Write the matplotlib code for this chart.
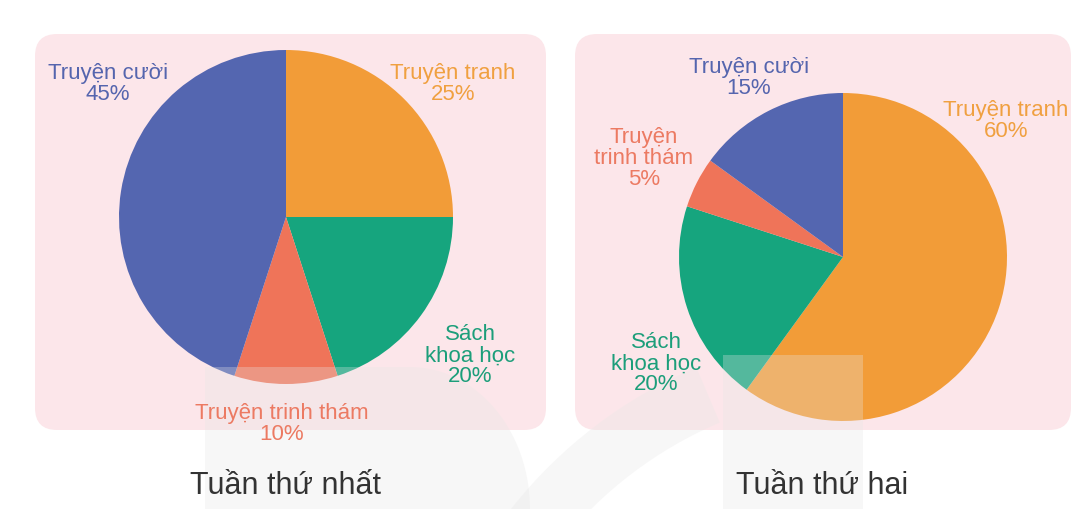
import numpy as np
import matplotlib.pyplot as plt
from matplotlib.patches import FancyBboxPatch, Rectangle, Polygon, Wedge

plt.rcParams['font.family'] = ['Liberation Sans', 'DejaVu Sans']

# data
categories = ["Truyện tranh", "Sách khoa học", "Truyện trinh thám", "Truyện cười"]
week1 = [25, 20, 10, 45]
week2 = [60, 20, 5, 15]
titles = ["Tuần thứ nhất", "Tuần thứ hai"]
colors = ["#f29c38", "#16a57e", "#ef7459", "#5466b0"]
text_colors = ["#f0a040", "#1c9e7a", "#ec7a62", "#5565ae"]

W, H = 1073, 509
fig = plt.figure(figsize=(W / 100, H / 100), dpi=100)
ax = fig.add_axes([0, 0, 1, 1])


def Y(y):
    return H - y


# pink panels
for x0, x1 in [(35, 546), (575, 1071)]:
    ax.add_patch(FancyBboxPatch((x0 + 14, Y(430) + 14), x1 - x0 - 28, 430 - 34 - 28,
                                boxstyle="round,pad=14,rounding_size=22",
                                fc="#fce6ea", ec="none", zorder=0))

# pies
pies = [
    (week1, (286, Y(217)), 167),
    (week2, (843, Y(257)), 164),
]
for vals, c, r in pies:
    ax.pie(vals, colors=colors, startangle=90, counterclock=False,
           center=c, radius=r, wedgeprops=dict(linewidth=0))

# labels (position per pie / category)
lab1 = [
    ("Truyện tranh\n25%", 453, 84),
    ("Sách\nkhoa học\n20%", 470, 356),
    ("Truyện trinh thám\n10%", 282, 424),
    ("Truyện cười\n45%", 108, 84),
]
lab2 = [
    ("Truyện tranh\n60%", 1006, 121),
    ("Sách\nkhoa học\n20%", 656, 364),
    ("Truyện\ntrinh thám\n5%", 644, 158),
    ("Truyện cười\n15%", 749, 78),
]
for labs in (lab1, lab2):
    for (txt, x, y), col in zip(labs, text_colors):
        ax.text(x, Y(y), txt, ha="center", va="center", fontsize=16,
                color=col, linespacing=1.0, zorder=8)

ax.text(286, Y(486), titles[0], ha="center", va="center", fontsize=22,
        color="#333333", zorder=8)
ax.text(822, Y(486), titles[1], ha="center", va="center", fontsize=22,
        color="#333333", zorder=8)

# faint watermark
wm = dict(fc="#e6e6e6", ec="none", alpha=0.3, zorder=6)
t = np.linspace(0, np.pi / 2, 40)
arc = np.column_stack([410 + 120 * np.sin(t), Y(509 - 142 * np.cos(t))])
shape = np.vstack([[[205, Y(509)], [205, Y(367)]], arc])
ax.add_patch(Polygon(shape, closed=True, **wm))
ax.add_patch(Rectangle((723, Y(509)), 140, 509 - 355, **wm))
ax.add_patch(Wedge((880, Y(800)), 470, 113, 170, width=60, **wm))

ax.set_xlim(0, W)
ax.set_ylim(0, H)
ax.set_aspect("auto")
ax.axis("off")

fig.savefig("out.png", dpi=100, facecolor="white")
